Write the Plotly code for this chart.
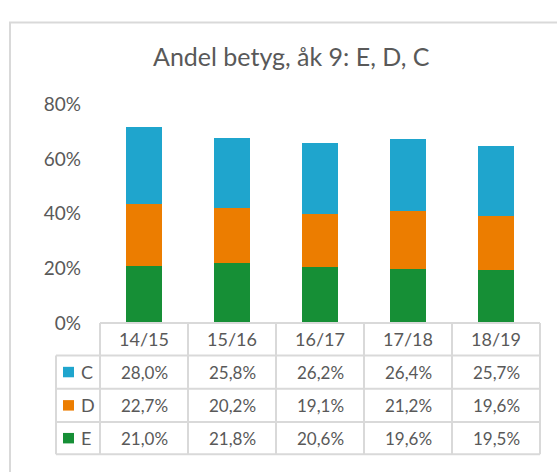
import plotly.graph_objects as go

# ---- data ----
categories = ["14/15", "15/16", "16/17", "17/18", "18/19"]
E_values = [21.0, 21.8, 20.6, 19.6, 19.5]
D_values = [22.7, 20.2, 19.1, 21.2, 19.6]
C_values = [28.0, 25.8, 26.2, 26.4, 25.7]
y_ticks = [0, 20, 40, 60, 80]
title_text = "Andel betyg, åk 9: E, D, C"

# ---- style ----
W, H = 557, 472
FONT = "Lato"
TXT = "#595959"
GRID = "#d9d9d9"
COL = {"C": "#1fa5cd", "D": "#ec7d00", "E": "#168f36"}


def px(x):
    return x / W


def py(y):
    return 1 - y / H


# plot area in pixels
PL, PR, PT, PB = 100, 540, 97, 327

fig = go.Figure()
for name, vals in [("E", E_values), ("D", D_values), ("C", C_values)]:
    fig.add_trace(go.Bar(x=categories, y=vals, name=name,
                         marker=dict(color=COL[name], line=dict(width=0)),
                         width=0.41, showlegend=False))

fig.update_layout(
    width=W, height=H, barmode="stack",
    margin=dict(l=0, r=0, t=0, b=0),
    paper_bgcolor="white", plot_bgcolor="white",
    font=dict(family=FONT, color=TXT),
    xaxis=dict(domain=[px(PL), px(PR)], range=[-0.5, 4.5],
               showticklabels=False, showgrid=False, zeroline=False,
               showline=False, fixedrange=True),
    yaxis=dict(domain=[py(PB), py(PT)], range=[0, 80],
               tickvals=y_ticks, ticktext=[f"{v}%" for v in y_ticks],
               tickfont=dict(size=19, color=TXT, family=FONT),
               showgrid=False, zeroline=False, showline=False,
               ticklabelstandoff=18),
)

shapes = []
# outer chart border (extends beyond the visible window)
shapes.append(dict(type="rect", xref="paper", yref="paper",
                   x0=px(10), x1=px(620), y0=py(11), y1=py(520),
                   line=dict(color=GRID, width=2), fillcolor="rgba(0,0,0,0)"))

# table grid
col_edges = [PL + i * 88 for i in range(6)]
row_edges = [327, 361, 396, 431, 465]
LEG_L = 56


def hline(x0, x1, y):
    shapes.append(dict(type="line", xref="paper", yref="paper",
                       x0=px(x0), x1=px(x1), y0=py(y), y1=py(y),
                       line=dict(color=GRID, width=2)))


def vline(x, y0, y1):
    shapes.append(dict(type="line", xref="paper", yref="paper",
                       x0=px(x), x1=px(x), y0=py(y0), y1=py(y1),
                       line=dict(color=GRID, width=2)))


hline(PL, col_edges[-1], row_edges[0])
for y in row_edges[1:]:
    hline(LEG_L, col_edges[-1], y)
for x in col_edges:
    vline(x, row_edges[0], row_edges[-1])
vline(LEG_L, row_edges[1], row_edges[-1])

annotations = [dict(text=title_text, x=px(291), y=py(46.5), xref="paper", yref="paper",
                    showarrow=False, xanchor="center", yanchor="middle",
                    font=dict(size=25, color=TXT, family=FONT))]

# header row
for i, c in enumerate(categories):
    cx = (col_edges[i] + col_edges[i + 1]) / 2
    annotations.append(dict(text=c, x=px(cx), y=py((row_edges[0] + row_edges[1]) / 2),
                            xref="paper", yref="paper", showarrow=False,
                            xanchor="center", yanchor="middle",
                            font=dict(size=18, color=TXT, family=FONT)))

rows = [("C", C_values), ("D", D_values), ("E", E_values)]
for r, (name, vals) in enumerate(rows):
    cy = (row_edges[r + 1] + row_edges[r + 2]) / 2
    # legend key
    shapes.append(dict(type="rect", xref="paper", yref="paper",
                       x0=px(63), x1=px(74), y0=py(cy - 5.5), y1=py(cy + 5.5),
                       line=dict(width=0), fillcolor=COL[name]))
    annotations.append(dict(text=name, x=px(79), y=py(cy), xref="paper", yref="paper",
                            showarrow=False, xanchor="left", yanchor="middle",
                            font=dict(size=18, color=TXT, family=FONT)))
    for i, v in enumerate(vals):
        cx = (col_edges[i] + col_edges[i + 1]) / 2
        annotations.append(dict(text=f"{v:.1f}".replace(".", ",") + "%",
                                x=px(cx), y=py(cy), xref="paper", yref="paper",
                                showarrow=False, xanchor="center", yanchor="middle",
                                font=dict(size=17, color=TXT, family=FONT)))

fig.update_layout(shapes=shapes, annotations=annotations)
fig.write_html("out.html", config={"displayModeBar": False},
               post_script="document.body.style.margin='0px';")
